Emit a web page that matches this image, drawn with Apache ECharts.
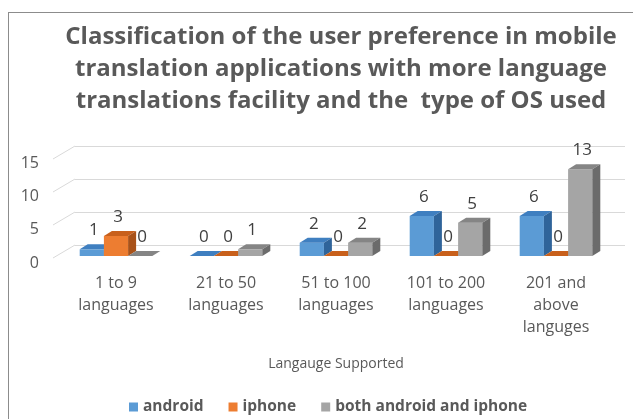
<!DOCTYPE html>
<html>
<head>
<meta charset="utf-8">
<script src="https://cdn.jsdelivr.net/npm/echarts@6/dist/echarts.min.js"></script>
<style>
  html, body { margin: 0; padding: 0; background: #fff; overflow: hidden; }
  #main { width: 633px; height: 419px; position: relative; }
  #frame { position: absolute; left: 8px; top: 12px; width: 630px; height: 410px;
           border-top: 1px solid #8c8c8c; border-left: 1px solid #8c8c8c; pointer-events: none; }
</style>
</head>
<body>
<div id="main"></div>
<div id="frame"></div>
<script>
// data
var categories = ['1 to 9\nlanguages', '21 to 50\nlanguages', '51 to 100\nlanguages', '101 to 200\nlanguages', '201 and\nabove\nlanguges'];
var android = [1, 0, 2, 6, 6];
var iphone = [3, 0, 0, 0, 0];
var both = [0, 1, 2, 5, 13];
var yTicks = [0, 5, 10, 15];

var FONT = '"Open Sans", Lato, sans-serif';

// fake 3d bar: front, top and side faces
function bar3d(name, values, slot, colors) {
  return {
    type: 'custom',
    name: name,
    xAxisIndex: 0,
    yAxisIndex: 0,
    z: 3 + slot,
    itemStyle: { color: colors[0] },
    data: values.map(function (v, i) { return [i, v]; }),
    encode: { x: 0, y: 1 },
    renderItem: function (params, api) {
      var i = api.value(0), v = api.value(1);
      var top = api.coord([i, v]);
      var base = api.coord([i, 0]);
      var band = api.size([1, 0])[0];
      var w = band * 0.22;
      var x0 = top[0] - 1.5 * w + slot * w, x1 = x0 + w;
      var yt = top[1], yb = base[1];
      var dx = 8, dy = 5;
      return {
        type: 'group',
        children: [
          { type: 'rect', shape: { x: x0, y: yt, width: w, height: yb - yt }, style: { fill: colors[0] } },
          { type: 'polygon', shape: { points: [[x0, yt], [x0 + dx, yt - dy], [x1 + dx, yt - dy], [x1, yt]] }, style: { fill: colors[1] } },
          { type: 'polygon', shape: { points: [[x1, yt], [x1 + dx, yt - dy], [x1 + dx, yb - dy], [x1, yb]] }, style: { fill: colors[2] } },
          { type: 'text', z2: 10, style: { x: x0 + w / 2 + 2, y: yt - 19, text: String(v), align: 'center', verticalAlign: 'middle',
              fill: '#404040', fontSize: 17, fontFamily: FONT } }
        ]
      };
    }
  };
}

var chart = echarts.init(document.getElementById('main'));

var option = {
  animation: false,
  graphic: [{
    type: 'text',
    x: 341,
    y: 21,
    style: {
      text: 'Classification of the user preference in mobile\ntranslation applications with more language\ntranslations facility and the  type of OS used',
      align: 'center',
      fill: '#595959',
      fontSize: 24,
      fontWeight: 'bold',
      fontFamily: FONT,
      lineHeight: 32
    }
  }],
  legend: {
    left: 124,
    top: 394,
    itemWidth: 9,
    itemHeight: 9,
    itemGap: 25,
    icon: 'rect',
    textStyle: { color: '#595959', fontSize: 15.5, fontWeight: 'bold', fontFamily: FONT },
    data: ['android', 'iphone', 'both android and iphone']
  },
  grid: [
    { left: 61, right: 22, top: 156, bottom: 163 },   // front (bars)
    { left: 75, right: 8, top: 146, bottom: 174 }     // back wall
  ],
  xAxis: [{
    type: 'category',
    gridIndex: 0,
    data: categories,
    axisLine: { show: false },
    axisTick: { show: false },
    axisLabel: { color: '#595959', fontSize: 16, fontFamily: FONT, lineHeight: 22, margin: 16, interval: 0 },
    name: 'Langauge Supported',
    nameLocation: 'middle',
    nameGap: 101,
    nameTextStyle: { color: '#595959', fontSize: 14, fontFamily: FONT }
  }, {
    type: 'value',
    gridIndex: 1,
    min: 0,
    max: 1,
    show: false
  }],
  yAxis: [{
    type: 'value',
    gridIndex: 0,
    min: 0,
    max: 15,
    interval: 5,
    axisLine: { show: false },
    axisTick: { show: false },
    splitLine: { show: false },
    axisLabel: { color: '#595959', fontSize: 16, fontFamily: FONT, margin: 22, verticalAlign: 'top', lineHeight: 14 }
  }, {
    type: 'value',
    gridIndex: 1,
    min: 0,
    max: 15,
    interval: 5,
    axisLine: { show: false },
    axisTick: { show: false },
    axisLabel: { show: false },
    splitLine: { lineStyle: { color: '#d9d9d9', width: 1 } }
  }],
  series: [
    {
      type: 'custom',
      xAxisIndex: 1,
      yAxisIndex: 1,
      silent: true,
      data: yTicks.map(function (v) { return [0, v]; }),
      renderItem: function (params, api) {
        var p = api.coord([0, api.value(1)]);
        return { type: 'line', shape: { x1: p[0] - 22, y1: p[1] + 13, x2: p[0], y2: p[1] },
                 style: { stroke: '#d9d9d9', lineWidth: 1 } };
      }
    },
    bar3d('android', android, 0, ['#5b9bd5', '#3f7fc0', '#2f649a']),
    bar3d('iphone', iphone, 1, ['#ed7d31', '#c8601c', '#a95219']),
    bar3d('both android and iphone', both, 2, ['#a5a5a5', '#858585', '#6b6b6b'])
  ]
};

chart.setOption(option);
</script>
</body>
</html>
